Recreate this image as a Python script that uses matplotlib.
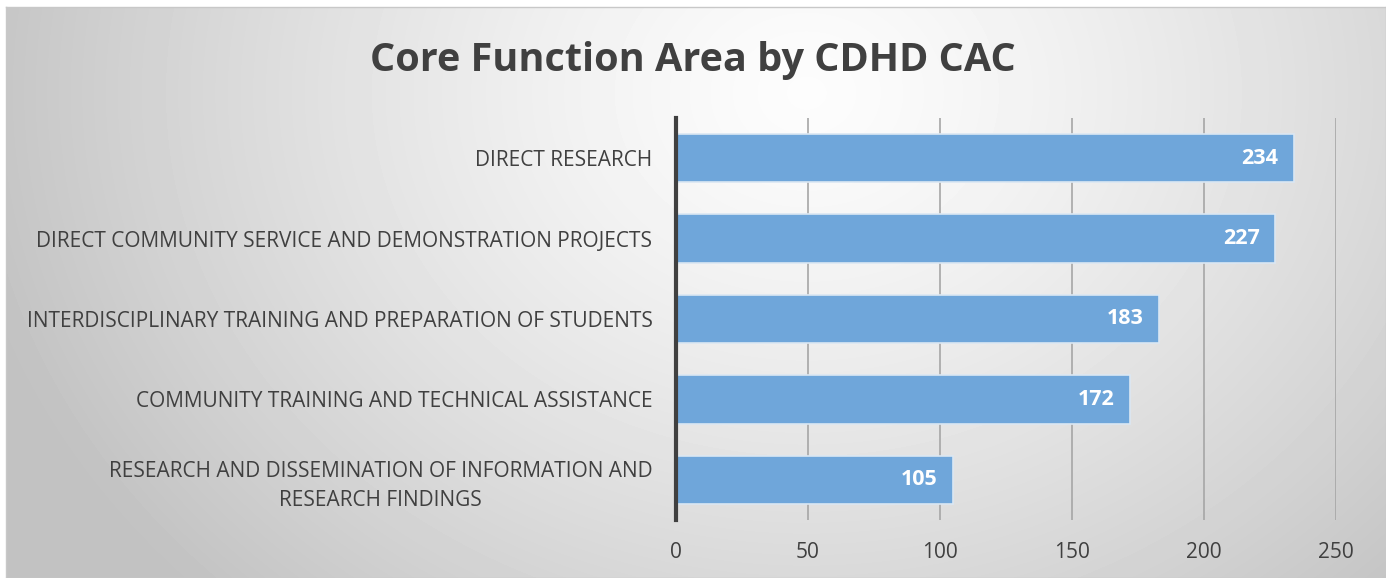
import numpy as np
import matplotlib.pyplot as plt

categories = [
    'DIRECT RESEARCH',
    'DIRECT COMMUNITY SERVICE AND DEMONSTRATION PROJECTS',
    'INTERDISCIPLINARY TRAINING AND PREPARATION OF STUDENTS',
    'COMMUNITY TRAINING AND TECHNICAL ASSISTANCE',
    'RESEARCH AND DISSEMINATION OF INFORMATION AND\nRESEARCH FINDINGS',
]
values = [234, 227, 183, 172, 105]
xticks = [0, 50, 100, 150, 200, 250]

fig = plt.figure(figsize=(13.86, 5.78), dpi=100)

# gradient background
bg = fig.add_axes([6 / 1386, 0, 1 - 6 / 1386, 1 - 7 / 578])
h, w = 571, 1380
yy, xx = np.mgrid[0:h, 0:w]
cx, cy = 0.58 * w, 0.15 * h
r = np.sqrt(((xx - cx) / (0.62 * w)) ** 2 + ((yy - cy) / (1.25 * h)) ** 2)
r = np.clip(r, 0, 1)
shade = 0.99 - 0.23 * r ** 1.3
bg.imshow(shade, cmap='gray', vmin=0, vmax=1, aspect='auto', extent=[0, 1, 0, 1], origin='upper')
bg.set_xlim(0, 1)
bg.set_ylim(0, 1)
for s in bg.spines.values():
    s.set_color('#c8c8c8')
    s.set_linewidth(1)
bg.set_xticks([])
bg.set_yticks([])
bg.set_zorder(0)

ax = fig.add_axes([676 / 1386, 58 / 578, 660 / 1386, 402 / 578])
ax.set_facecolor('none')
ax.set_zorder(1)

y = np.arange(len(categories))
bars = ax.barh(y, values, height=0.6, color='#6fa6da', edgecolor='#dbe7f3', linewidth=1.2, zorder=3)
for yi, v in zip(y, values):
    ax.text(v - 6, yi, str(v), ha='right', va='center', color='white', fontsize=15.5,
            fontweight='bold', family='Open Sans', zorder=4)

ax.set_ylim(len(categories) - 0.5, -0.5)
ax.set_xlim(0, 250)
ax.set_xticks(xticks)
ax.set_xticklabels([str(t) for t in xticks], family='Open Sans', fontsize=15, color='#404040')
ax.set_yticks(y)
ax.set_yticklabels(categories, family='Open Sans', fontsize=15, color='#404040',
                   multialignment='center', linespacing=1.45)
ax.tick_params(axis='x', length=0, pad=16)
ax.tick_params(axis='y', length=0, pad=17)
ax.grid(axis='x', color='#a6a6a6', linewidth=1.2, zorder=0)
for s in ['top', 'right', 'bottom']:
    ax.spines[s].set_visible(False)
ax.spines['left'].set_color('#404040')
ax.spines['left'].set_linewidth(3)
ax.spines['left'].set_zorder(5)

fig.text(0.5, 1 - 61 / 578, 'Core Function Area by CDHD CAC', ha='center', va='center',
         fontsize=28.5, fontweight='bold', color='#404040', family='Open Sans')

fig.savefig('out.png', dpi=100)
